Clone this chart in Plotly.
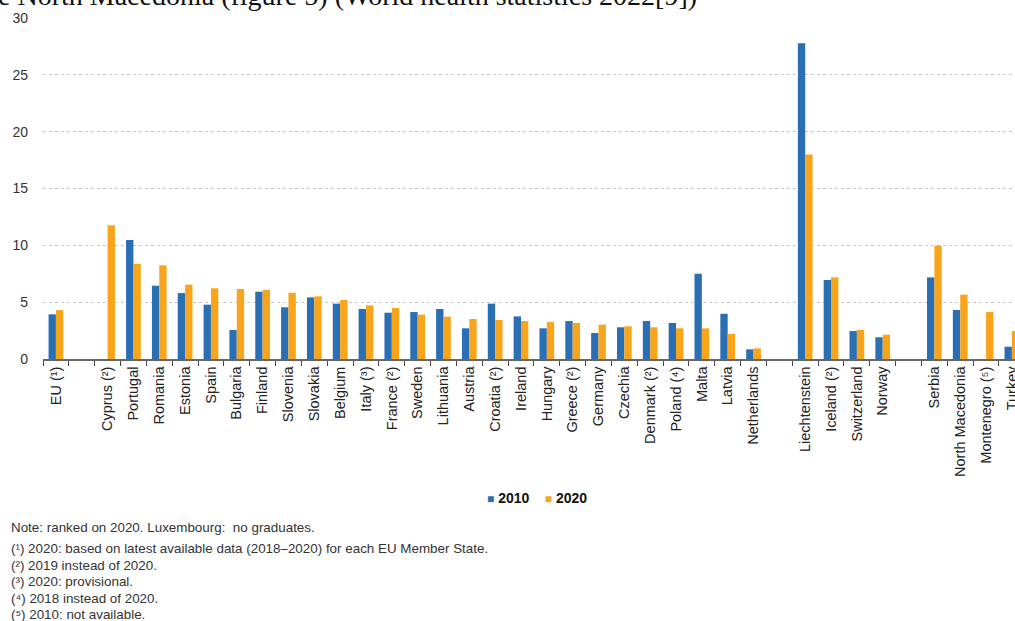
import plotly.graph_objects as go

categories = ["EU (¹)", " ", "Cyprus (²)", "Portugal", "Romania", "Estonia", "Spain", "Bulgaria",
              "Finland", "Slovenia", "Slovakia", "Belgium", "Italy (³)", "France (²)", "Sweden",
              "Lithuania", "Austria", "Croatia (²)", "Ireland", "Hungary", "Greece (²)", "Germany",
              "Czechia", "Denmark (²)", "Poland (⁴)", "Malta", "Latvia", "Netherlands", "  ",
              "Liechtenstein", "Iceland (²)", "Switzerland", "Norway", "   ",
              "Serbia", "North Macedonia", "Montenegro (⁵)", "Turkey"]

values_2010 = [3.93, None, None, 10.47, 6.45, 5.80, 4.78, 2.55, 5.92, 4.55, 5.42, 4.87,
               4.40, 4.07, 4.13, 4.40, 2.70, 4.87, 3.75, 2.70, 3.34, 2.29, 2.79, 3.34, 3.17,
               7.50, 3.98, 0.85, None, 27.77, 6.95, 2.46, 1.91, None, 7.18, 4.31, None, 1.08]

values_2020 = [4.30, None, 11.76, 8.38, 8.24, 6.54, 6.22, 6.16, 6.07, 5.83, 5.51, 5.19,
               4.72, 4.49, 3.90, 3.72, 3.52, 3.43, 3.34, 3.25, 3.17, 3.02, 2.88, 2.79, 2.70,
               2.70, 2.20, 0.94, None, 18.0, 7.18, 2.55, 2.14, None, 9.97, 5.66, 4.13, 2.46]

series_names = ["2010", "2020"]
y_ticks = [0, 5, 10, 15, 20, 25, 30]

title_text = "e North Macedonia (figure 5) (World health statistics 2022[9])"

notes = [
    "Note: ranked on 2020. Luxembourg:  no graduates.",
    "(¹) 2020: based on latest available data (2018–2020) for each EU Member State.",
    "(²) 2019 instead of 2020.",
    "(³) 2020: provisional.",
    "(⁴) 2018 instead of 2020.",
    "(⁵) 2010: not available.",
]

BLUE = "#2a6eb4"
ORANGE = "#f9a51c"
FONT = "Liberation Sans, Arial, sans-serif"

fig = go.Figure()
fig.add_trace(go.Bar(x=categories, y=values_2010, name=series_names[0], marker_color=BLUE,
                     marker_line_width=0))
fig.add_trace(go.Bar(x=categories, y=values_2020, name=series_names[1], marker_color=ORANGE,
                     marker_line_width=0))

W, H = 1015, 621
L, T, B = 43, 18, 262
plot_h = H - T - B
plot_w = W - L


def px_x(px):
    return (px - L) / plot_w


def px_y(py):
    return (H - B - py) / plot_h


fig.update_layout(
    width=W, height=H,
    margin=dict(l=L, r=0, t=T, b=B, pad=0, autoexpand=False),
    paper_bgcolor="white", plot_bgcolor="white",
    barmode="group", bargap=0.43, bargroupgap=0,
    font=dict(family=FONT, size=13, color="#222"),
    showlegend=False,
)

fig.update_xaxes(
    type="category", categoryorder="array", categoryarray=categories,
    range=[-0.5, 37.12], automargin=False,
    showline=True, linecolor="#666", linewidth=1.5,
    ticks="outside", tickson="boundaries", ticklen=5, tickcolor="#444", tickwidth=1,
    tickangle=-90, tickfont=dict(family=FONT, size=14.5, color="#222"),
    showgrid=False, fixedrange=True,
)
fig.update_yaxes(
    range=[0, 30], tickvals=y_ticks, ticktext=[str(v) for v in y_ticks],
    automargin=False,
    showgrid=True, gridcolor="#c8c8c8", gridwidth=1, griddash="dot",
    zeroline=False, showline=False, ticks="", ticklabelstandoff=14,
    tickfont=dict(family=FONT, size=14, color="#333"),
)

# legend drawn as text
legend_text = (f"<span style='color:{BLUE};font-size:12px'>■</span> <b>{series_names[0]}</b>"
               f"    <span style='color:{ORANGE};font-size:12px'>■</span> <b>{series_names[1]}</b>")
fig.add_annotation(text=legend_text, xref="paper", yref="paper",
                   x=px_x(485), xanchor="left", y=px_y(498), yanchor="middle",
                   showarrow=False, font=dict(family=FONT, size=14, color="#111"))

# clipped document heading above the chart
fig.add_annotation(text=title_text, xref="paper", yref="paper",
                   x=px_x(-4), xanchor="left",
                   y=px_y(13), yanchor="bottom",
                   showarrow=False,
                   font=dict(family="Liberation Serif, Times New Roman, serif", size=28, color="#111"))

note_y = [527, 548, 565, 581, 598, 614]
for txt, yy in zip(notes, note_y):
    fig.add_annotation(text=txt, xref="paper", yref="paper",
                       x=px_x(9), xanchor="left",
                       y=px_y(yy), yanchor="middle",
                       showarrow=False,
                       font=dict(family=FONT, size=13.4, color="#333"))

fig.write_html("out.html",
               config={"displayModeBar": False},
               post_script="document.body.style.margin='0';document.body.style.overflow='hidden';")
